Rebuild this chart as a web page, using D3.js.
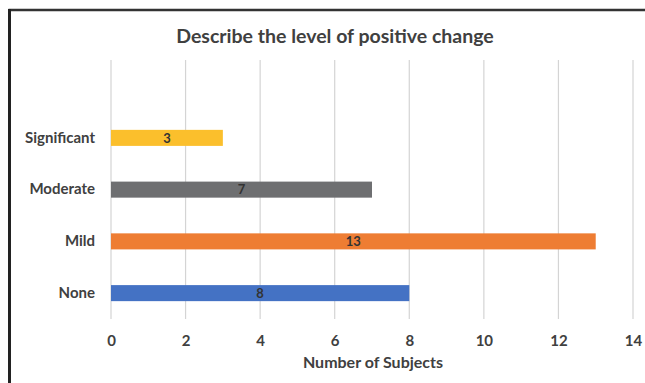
<!DOCTYPE html>
<html>
<head>
<meta charset="utf-8">
<script src="https://cdn.jsdelivr.net/npm/d3@7"></script>
<style>
  html, body { margin: 0; padding: 0; background: #fff; }
  svg { display: block; }
  text { font-family: Lato, "Open Sans", sans-serif; font-weight: bold; fill: #404040; }
</style>
</head>
<body>
<svg id="chart" width="645" height="383"></svg>
<script>
// Responses to "Describe the level of positive change"
const categories = ["Significant", "Moderate", "Mild", "None"];
const counts = [3, 7, 13, 8];
const barColors = ["#FBBF2C", "#6E6F71", "#EE7D33", "#4472C4"];
const xTicks = [0, 2, 4, 6, 8, 10, 12, 14];
const titleText = "Describe the level of positive change";
const xTitle = "Number of Subjects";

const svg = d3.select("#chart");
const W = 645, H = 383;

// Chart frame: heavy line on the top and left edges
svg.append("line").attr("x1", 8.5).attr("x2", W).attr("y1", 10).attr("y2", 10)
  .attr("stroke", "#333").attr("stroke-width", 2.5);
svg.append("line").attr("x1", 9.5).attr("x2", 9.5).attr("y1", 9).attr("y2", H)
  .attr("stroke", "#222").attr("stroke-width", 3);

const x = d3.scaleLinear().domain([0, 14]).range([111, 633]);
const y = d3.scaleBand().domain(categories).range([112, 319]).paddingInner(0.69).paddingOuter(0.345);

const gridTop = 60, gridBottom = 319;

// Vertical gridlines
svg.append("g").selectAll("line").data(xTicks).join("line")
  .attr("x1", d => x(d)).attr("x2", d => x(d))
  .attr("y1", gridTop).attr("y2", gridBottom)
  .attr("stroke", "#D4D4D4").attr("stroke-width", 1.2);

// Bars
svg.append("g").selectAll("rect").data(categories).join("rect")
  .attr("x", x(0))
  .attr("y", d => y(d))
  .attr("width", (d, i) => x(counts[i]) - x(0))
  .attr("height", y.bandwidth())
  .attr("fill", (d, i) => barColors[i]);

// Value labels centred in each bar
svg.append("g").selectAll("text").data(categories).join("text")
  .attr("x", (d, i) => (x(0) + x(counts[i])) / 2)
  .attr("y", d => y(d) + y.bandwidth() / 2)
  .attr("dy", "0.36em")
  .attr("text-anchor", "middle")
  .style("font-size", "13px")
  .style("fill", "#333")
  .text((d, i) => counts[i]);

// Category axis labels
const yAxis = d3.axisLeft(y).tickSize(0).tickPadding(0);
const gy = svg.append("g").attr("transform", "translate(95,0)").call(yAxis);
gy.select(".domain").remove();
gy.selectAll("text").style("font-size", "15px").style("fill", "#404040")
  .style("font-family", "Lato, 'Open Sans', sans-serif").style("font-weight", "bold");

// Value axis tick labels
const xAxis = d3.axisBottom(x).tickValues(xTicks).tickSize(0).tickPadding(0);
const gx = svg.append("g").attr("transform", "translate(0,335)").call(xAxis);
gx.select(".domain").remove();
gx.selectAll("text").style("font-size", "15px").style("fill", "#404040")
  .style("font-family", "Lato, 'Open Sans', sans-serif").style("font-weight", "bold");

// Axis title
svg.append("text")
  .attr("x", 373).attr("y", 368)
  .attr("text-anchor", "middle")
  .style("font-size", "16px")
  .text(xTitle);

// Chart title
svg.append("text")
  .attr("x", 335).attr("y", 43)
  .attr("text-anchor", "middle")
  .style("font-size", "19.5px")
  .text(titleText);
</script>
</body>
</html>
